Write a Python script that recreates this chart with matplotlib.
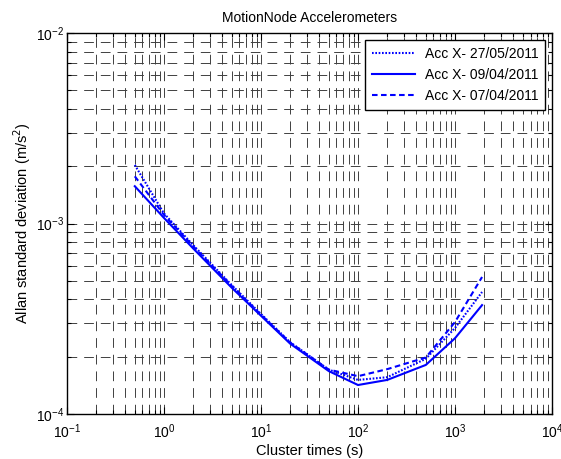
import numpy as np
import matplotlib.pyplot as plt
from matplotlib.ticker import LogLocator, NullFormatter

plt.rcParams['font.family'] = ['Liberation Sans', 'DejaVu Sans']
plt.rcParams['lines.scale_dashes'] = False

# cluster times (s) and Allan deviation (m/s^2)
tau = [0.5, 1, 2, 5, 10, 20, 50, 100, 200, 500, 1000, 1900]
acc_270511 = [2.03e-3, 1.13e-3, 7.7e-4, 4.75e-4, 3.35e-4, 2.38e-4, 1.71e-4, 1.51e-4, 1.56e-4, 1.95e-4, 2.83e-4, 4.37e-4]
acc_090411 = [1.57e-3, 1.07e-3, 7.4e-4, 4.6e-4, 3.28e-4, 2.34e-4, 1.68e-4, 1.42e-4, 1.51e-4, 1.81e-4, 2.50e-4, 3.73e-4]
acc_070411 = [1.77e-3, 1.11e-3, 7.6e-4, 4.7e-4, 3.32e-4, 2.37e-4, 1.71e-4, 1.58e-4, 1.72e-4, 1.98e-4, 3.04e-4, 5.24e-4]
labels = ['Acc X- 27/05/2011', 'Acc X- 09/04/2011', 'Acc X- 07/04/2011']

fig = plt.figure(figsize=(5.61, 4.59), dpi=100)
ax = fig.add_axes([0.1194, 0.098, 0.8646, 0.830])

ax.loglog(tau, acc_270511, color='blue', lw=1.5, linestyle=(0, (1.2, 1.2)), label=labels[0])
ax.loglog(tau, acc_090411, color='blue', lw=1.5, linestyle='-', label=labels[1])
ax.loglog(tau, acc_070411, color='blue', lw=1.5, linestyle=(0, (4, 2.5)), label=labels[2])

ax.set_xlim(1e-1, 1e4)
ax.set_ylim(1e-4, 1e-2)
ax.xaxis.set_major_locator(LogLocator(base=10, numticks=10))
ax.xaxis.set_minor_locator(LogLocator(base=10, subs=np.arange(2, 10), numticks=20))
ax.yaxis.set_minor_locator(LogLocator(base=10, subs=np.arange(2, 10), numticks=20))
ax.xaxis.set_minor_formatter(NullFormatter())
ax.yaxis.set_minor_formatter(NullFormatter())

ax.grid(True, which='both', color='0.25', lw=0.7, linestyle=(0, (7, 5)))
ax.tick_params(which='both', direction='in', top=True, right=True, labelsize=10, width=0.8)
ax.tick_params(which='major', length=5)
ax.tick_params(which='minor', length=3)
ax.tick_params(axis='x', pad=6)
ax.tick_params(axis='y', pad=2)
for s in ax.spines.values():
    s.set_linewidth(1.0)

ax.set_title('MotionNode Accelerometers', fontsize=10, pad=8)
ax.set_xlabel('Cluster times (s)', fontsize=10.5, labelpad=2)
ax.set_ylabel('Allan standard deviation (m/s$^2$)', fontsize=10.5, labelpad=2)

leg = ax.legend(loc='upper right', fontsize=10, fancybox=False, framealpha=1,
                edgecolor='k', handlelength=3.1, handletextpad=0.65,
                borderaxespad=0.5, borderpad=0.5)
leg.get_frame().set_linewidth(1.0)

fig.savefig('out.png', dpi=100)
